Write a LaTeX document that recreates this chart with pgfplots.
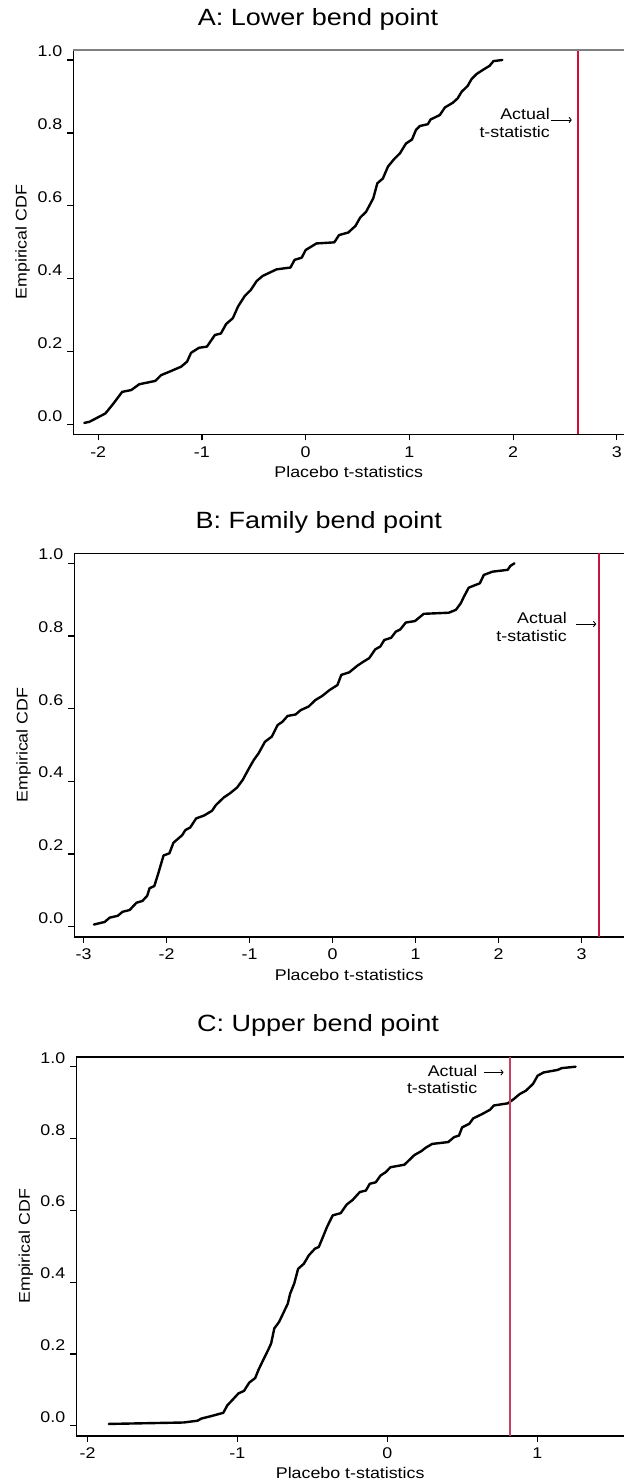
\documentclass[border=0pt]{standalone}
\usepackage{fontspec}
\setmainfont{Liberation Sans}[FakeStretch=1.15]
\usepackage{pgfplots}
\pgfplotsset{compat=1.18}
\usetikzlibrary{arrows.meta}
\definecolor{redA}{RGB}{210,14,56}
\definecolor{redB}{RGB}{200,20,60}
\definecolor{redC}{RGB}{200,64,100}
\definecolor{topgray}{RGB}{128,128,128}
\newcommand{\lbl}{\fontsize{15.5}{18}\selectfont}
\newcommand{\ann}{\fontsize{15.5}{18}\selectfont}
\newcommand{\ttl}{\fontsize{23.5}{27}\selectfont}
\pgfplotsset{
  cdf/.style={
    scale only axis,
    axis x line*=bottom,
    axis y line*=left,
    axis line style={line width=1.6pt, black},
    tick align=outside,
    major tick length=6pt,
    tick style={line width=1.2pt, black},
    ytick={0,0.2,0.4,0.6,0.8,1},
    yticklabels={0.0,0.2,0.4,0.6,0.8,1.0},
    yticklabel style={anchor=base east, inner sep=0pt, font=\lbl, xshift=-5pt, yshift=3.5pt},
    xticklabel style={anchor=north, inner sep=0pt, font=\lbl, yshift=-6pt},
    label style={font=\lbl, inner sep=0pt},
    xlabel={Placebo t-statistics},
    ylabel={Empirical CDF},
    clip=false,
  },
  curve/.style={black, line width=2.4pt, line join=round, line cap=round},
}
\begin{document}
\begin{tikzpicture}
% ---------------- Panel A ----------------
\node[font=\ttl] at (318pt,-19pt) {A: Lower bend point};
\begin{axis}[cdf,
  at={(73.5pt,-434.3pt)}, anchor=south west,
  width=550.5pt, height=384.3pt,
  xmin=-2.238, xmax=3.069, ymin=-0.0263, ymax=1.0274,
  xtick={-2,-1,0,1,2,3}, xticklabels={-2,-1,0,1,2,3},
  xlabel style={at={(axis description cs:0.5,-0.0989)}, anchor=center},
  ylabel style={at={(axis description cs:-0.0923,0.5)}, anchor=center},
]
\addplot[draw=redA, color=redA, line width=2pt, forget plot] coordinates {(2.622,-0.0263) (2.622,1.0274)};
\addplot[curve] coordinates {
(-2.134,0.005) (-2.084,0.008) (-1.930,0.031) (-1.853,0.058) (-1.769,0.090)
(-1.681,0.095) (-1.604,0.111) (-1.450,0.120) (-1.393,0.136) (-1.316,0.145)
(-1.201,0.159) (-1.143,0.173) (-1.105,0.197) (-1.028,0.211) (-0.952,0.214)
(-0.875,0.246) (-0.817,0.250) (-0.767,0.276) (-0.702,0.292) (-0.652,0.324)
(-0.587,0.353) (-0.530,0.369) (-0.472,0.394) (-0.414,0.408) (-0.280,0.426)
(-0.146,0.431) (-0.107,0.452) (-0.038,0.458) (0.000,0.479) (0.104,0.497)
(0.276,0.500) (0.322,0.520) (0.411,0.527) (0.480,0.545) (0.526,0.568)
(0.583,0.584) (0.652,0.621) (0.691,0.662) (0.744,0.675) (0.794,0.708)
(0.852,0.728) (0.909,0.744) (0.967,0.771) (1.025,0.782) (1.063,0.808)
(1.101,0.819) (1.178,0.824) (1.205,0.837) (1.293,0.849) (1.343,0.870)
(1.420,0.883) (1.466,0.895) (1.504,0.913) (1.562,0.929) (1.600,0.948)
(1.650,0.962) (1.715,0.974) (1.773,0.984) (1.811,0.997) (1.896,1.000)
};
\draw[topgray, line width=1.6pt] (rel axis cs:0,1) -- (rel axis cs:1,1);
\node[anchor=base east, inner sep=0pt, font=\ann] at (axis cs:2.356,0.8374) {Actual};
\node[anchor=base east, inner sep=0pt, font=\ann] at (axis cs:2.356,0.788) {t-statistic};
\draw[line width=0.9pt, -{To[length=3pt,width=6pt]}] (axis cs:2.363,0.8355) -- (axis cs:2.565,0.8355);
\end{axis}
% ---------------- Panel B ----------------
\node[font=\ttl] at (318.7pt,-522pt) {B: Family bend point};
\begin{axis}[cdf,
  at={(74.4pt,-936.7pt)}, anchor=south west,
  width=549.6pt, height=383.4pt,
  xmin=-3.111, xmax=3.511, ymin=-0.0275, ymax=1.0275,
  xtick={-3,-2,-1,0,1,2,3}, xticklabels={-3,-2,-1,0,1,2,3},
  xlabel style={at={(axis description cs:0.5,-0.0989)}, anchor=center},
  ylabel style={at={(axis description cs:-0.0923,0.5)}, anchor=center},
]
\draw[black, line width=1.6pt] (rel axis cs:0,1) -- (rel axis cs:1,1);
\addplot[curve] coordinates {
(-2.876,0.006) (-2.747,0.013) (-2.685,0.025) (-2.589,0.030) (-2.531,0.041)
(-2.445,0.046) (-2.363,0.066) (-2.291,0.071) (-2.234,0.085) (-2.205,0.106)
(-2.148,0.112) (-2.100,0.147) (-2.037,0.196) (-1.966,0.202) (-1.918,0.231)
(-1.812,0.252) (-1.774,0.266) (-1.716,0.273) (-1.644,0.298) (-1.548,0.306)
(-1.453,0.319) (-1.405,0.335) (-1.309,0.356) (-1.237,0.367) (-1.151,0.383)
(-1.083,0.404) (-1.007,0.436) (-0.949,0.459) (-0.892,0.477) (-0.815,0.509)
(-0.733,0.523) (-0.662,0.555) (-0.604,0.564) (-0.542,0.580) (-0.446,0.584)
(-0.384,0.596) (-0.288,0.606) (-0.206,0.624) (-0.125,0.635) (-0.038,0.651)
(0.058,0.665) (0.105,0.693) (0.201,0.700) (0.297,0.718) (0.369,0.729)
(0.441,0.739) (0.513,0.763) (0.575,0.771) (0.623,0.789) (0.705,0.795)
(0.762,0.812) (0.815,0.818) (0.882,0.837) (0.992,0.841) (1.098,0.861)
(1.400,0.864) (1.486,0.872) (1.544,0.890) (1.582,0.908) (1.640,0.933)
(1.774,0.945) (1.822,0.968) (1.927,0.977) (2.109,0.982) (2.143,0.993)
(2.191,1.000)
};
\addplot[draw=redB, line width=1.7pt] coordinates {(3.213,-0.0275) (3.213,1.0275)};
\node[anchor=base east, inner sep=0pt, font=\ann] at (axis cs:2.824,0.835) {Actual};
\node[anchor=base east, inner sep=0pt, font=\ann] at (axis cs:2.824,0.7845) {t-statistic};
\draw[line width=0.9pt, -{To[length=3pt,width=6pt]}] (axis cs:2.935,0.833) -- (axis cs:3.175,0.833);
\end{axis}
% ---------------- Panel C ----------------
\node[font=\ttl] at (318pt,-1025pt) {C: Upper bend point};
\begin{axis}[cdf,
  at={(76.4pt,-1435.7pt)}, anchor=south west,
  width=547.6pt, height=379pt,
  xmin=-2.074, xmax=1.579, ymin=-0.0278, ymax=1.0278,
  xtick={-2,-1,0,1}, xticklabels={-2,-1,0,1},
  xlabel style={at={(axis description cs:0.5,-0.0989)}, anchor=center},
  ylabel style={at={(axis description cs:-0.0923,0.5)}, anchor=center},
]
\draw[black, line width=1.6pt] (rel axis cs:0,1) -- (rel axis cs:1,1);
\addplot[curve] coordinates {
(-1.858,0.005) (-1.359,0.009) (-1.266,0.014) (-1.240,0.020) (-1.173,0.027)
(-1.094,0.036) (-1.067,0.057) (-1.035,0.071) (-0.993,0.090) (-0.956,0.097)
(-0.921,0.120) (-0.881,0.133) (-0.860,0.155) (-0.828,0.183) (-0.796,0.210)
(-0.775,0.229) (-0.754,0.271) (-0.722,0.289) (-0.690,0.317) (-0.664,0.340)
(-0.648,0.368) (-0.621,0.396) (-0.595,0.437) (-0.557,0.451) (-0.523,0.475)
(-0.483,0.493) (-0.457,0.498) (-0.430,0.525) (-0.403,0.553) (-0.364,0.586)
(-0.311,0.592) (-0.271,0.616) (-0.231,0.629) (-0.183,0.651) (-0.143,0.655)
(-0.117,0.674) (-0.077,0.678) (-0.045,0.697) (-0.011,0.706) (0.021,0.720)
(0.114,0.727) (0.149,0.741) (0.181,0.754) (0.228,0.765) (0.255,0.774)
(0.300,0.785) (0.406,0.790) (0.446,0.804) (0.478,0.808) (0.499,0.831)
(0.547,0.841) (0.573,0.856) (0.632,0.868) (0.685,0.880) (0.711,0.892)
(0.804,0.898) (0.844,0.910) (0.884,0.924) (0.924,0.933) (0.972,0.952)
(1.003,0.975) (1.043,0.984) (1.136,0.991) (1.163,0.996) (1.256,1.000)
};
\addplot[draw=redC, line width=1.7pt] coordinates {(0.818,-0.0278) (0.818,1.0278)};
\node[anchor=base east, inner sep=0pt, font=\ann] at (axis cs:0.602,0.972) {Actual};
\node[anchor=base east, inner sep=0pt, font=\ann] at (axis cs:0.602,0.926) {t-statistic};
\draw[line width=0.9pt, -{To[length=3pt,width=6pt]}] (axis cs:0.642,0.984) -- (axis cs:0.775,0.984);
\end{axis}
\pgfresetboundingbox
\useasboundingbox (0pt,0pt) rectangle (624pt,-1483pt);
\end{tikzpicture}
\end{document}
